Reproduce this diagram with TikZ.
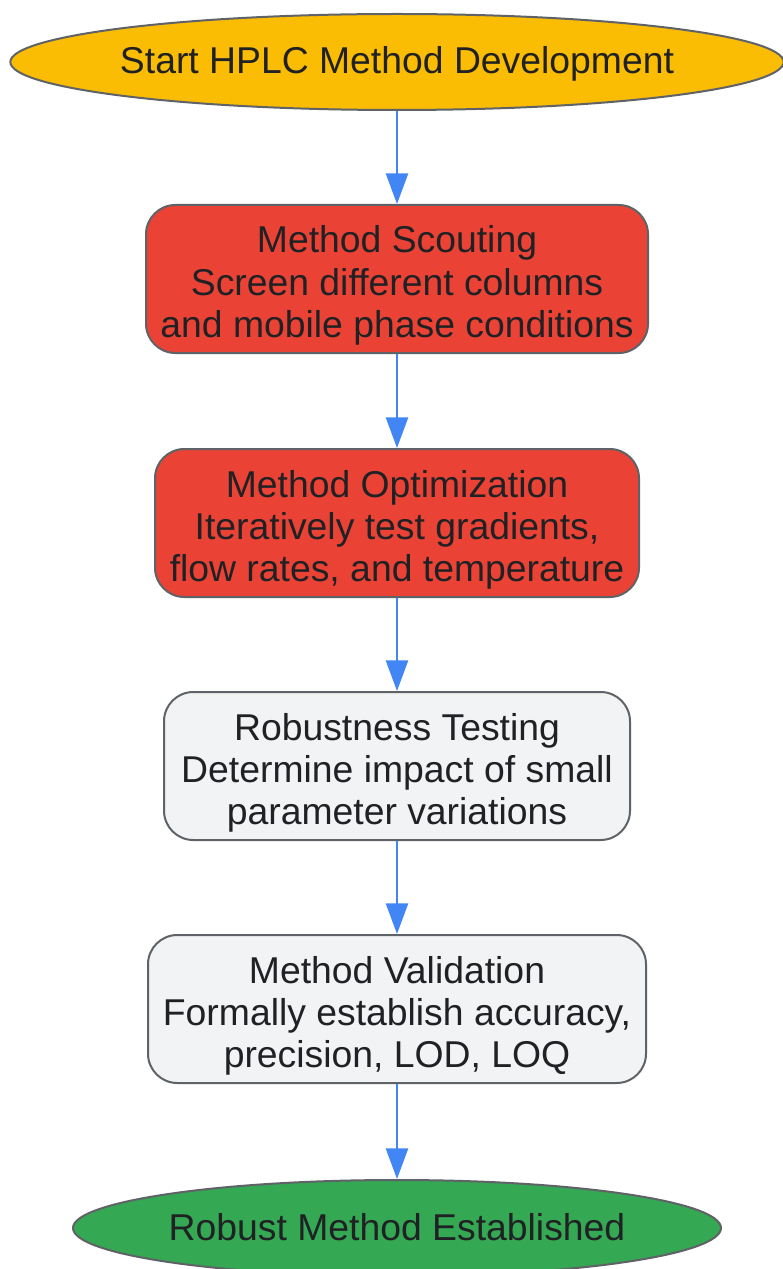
\documentclass[tikz,border=0pt]{standalone}
\usepackage{fontspec}
\setmainfont{Liberation Sans}
\usepackage{xcolor}
\usepackage{tikz}
\usetikzlibrary{shapes,arrows.meta,positioning}

\definecolor{startyellow}{HTML}{FBBC04}
\definecolor{stepred}{HTML}{EA4335}
\definecolor{stepgray}{HTML}{F1F3F4}
\definecolor{endgreen}{HTML}{34A853}
\definecolor{edgegray}{HTML}{5F6368}
\definecolor{textdark}{HTML}{202124}
\definecolor{flowblue}{HTML}{4285F4}

% struts for the first and last line of a box
\newcommand{\linetop}{\rule{0pt}{32pt}}
\newcommand{\linebottom}{\rule[-8pt]{0pt}{8pt}}

\tikzset{
    flowtext/.style={
        text=textdark,
        align=center,
        font=\fontsize{28}{31.5}\selectfont
    },
    terminal/.style={
        flowtext,
        ellipse,
        draw=edgegray,
        line width=1.5pt,
        inner sep=0pt,
        minimum height=72pt,
        execute at begin node={\rule[-8pt]{0pt}{34pt}}
    },
    stepbox/.style={
        flowtext,
        rectangle,
        draw=edgegray,
        line width=1.5pt,
        rounded corners=22pt,
        inner sep=0pt,
        minimum height=111pt
    },
    flowarrow/.style={
        -{Triangle[width=16.5pt,length=23pt]},
        line width=2pt,
        draw=flowblue,
        fill=flowblue
    }
}

\begin{document}
\begin{tikzpicture}[x=0.75pt,y=-0.75pt]
                \useasboundingbox (0,0) rectangle (782,1269);

                \node[
                    terminal,
                    fill=startyellow,
                    inner xsep=-2.7pt,
                    minimum width=579pt
                    ] (start) at (397,62) {Start HPLC Method Development};

                \node[
                    stepbox,
                    fill=stepred,
                    minimum width=376.5pt
                    ] (scouting) at (397,279) {\linetop Method Scouting\\Screen different columns\\and mobile phase conditions\linebottom};

                \node[
                    stepbox,
                    fill=stepred,
                    minimum width=363pt
                    ] (optimization) at (397,523) {\linetop Method Optimization\\Iteratively test gradients,\\flow rates, and temperature\linebottom};

                \node[
                    stepbox,
                    fill=stepgray,
                    minimum width=349.5pt
                    ] (robustness) at (397,766) {\linetop Robustness Testing\\Determine impact of small\\parameter variations\linebottom};

                \node[
                    stepbox,
                    fill=stepgray,
                    minimum width=373.5pt
                    ] (validation) at (397,1009) {\linetop Method Validation\\Formally establish accuracy,\\precision, LOD, LOQ\linebottom};

                \node[
                    terminal,
                    fill=endgreen,
                    minimum width=486pt
                    ] (established) at (397,1228) {Robust Method Established};

                \draw[flowarrow] (start) to (scouting);
                \draw[flowarrow] (scouting) to (optimization);
                \draw[flowarrow] (optimization) to (robustness);
                \draw[flowarrow] (robustness) to (validation);
                \draw[flowarrow] (validation) to (established);

            \end{tikzpicture}
\end{document}
